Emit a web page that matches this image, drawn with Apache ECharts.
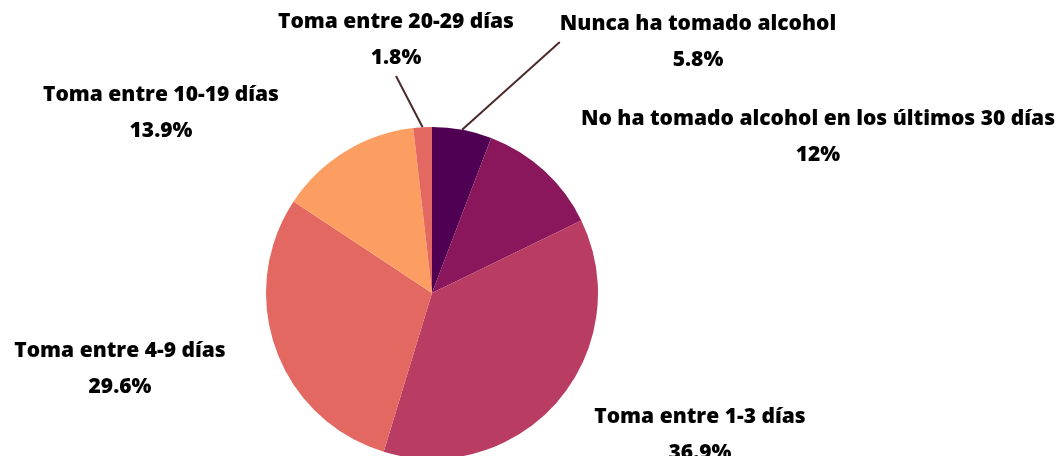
<!DOCTYPE html>
<html><head><meta charset="utf-8">
<script src="https://cdn.jsdelivr.net/npm/echarts@6/dist/echarts.min.js"></script>
<style>html,body{margin:0;padding:0;background:#fff}#c{width:1059px;height:456px}</style>
</head><body><div id="c"></div>
<script>
const categories = ['Nunca ha tomado alcohol','No ha tomado alcohol en los últimos 30 días','Toma entre 1-3 días','Toma entre 4-9 días','Toma entre 10-19 días','Toma entre 20-29 días'];
const values = [5.8, 12, 36.9, 29.6, 13.9, 1.8];
const colors = ['#4f0052','#8a165b','#b93d62','#e26861','#fc9e61','#e26861'];
const labelPos = [[698,42],[818,137],[700,435],[120,369],[161,113],[396,40]];
const showLine = [true,false,false,false,false,true];

const chart = echarts.init(document.getElementById('c'));
chart.setOption({
  animation:false,
  series:[{
    type:'pie',
    center:[432,293],
    radius:166,
    startAngle:90,
    clockwise:true,
    data: categories.map((n,i)=>({name:n,value:values[i],itemStyle:{color:colors[i]},
      labelLine:{show:showLine[i],length:0,length2:0,lineStyle:{color:'#4a2a2a',width:2}}})),
    label:{show:true,position:'outside',formatter:'{b}\n{c}%',color:'#000',
      fontFamily:'Open Sans',fontWeight:800,fontSize:21,lineHeight:36,align:'center'},
    labelLayout:function(p){const q=labelPos[p.dataIndex];return {x:q[0],y:q[1],align:'center',verticalAlign:'middle'};}
  }]
});
</script></body></html>
